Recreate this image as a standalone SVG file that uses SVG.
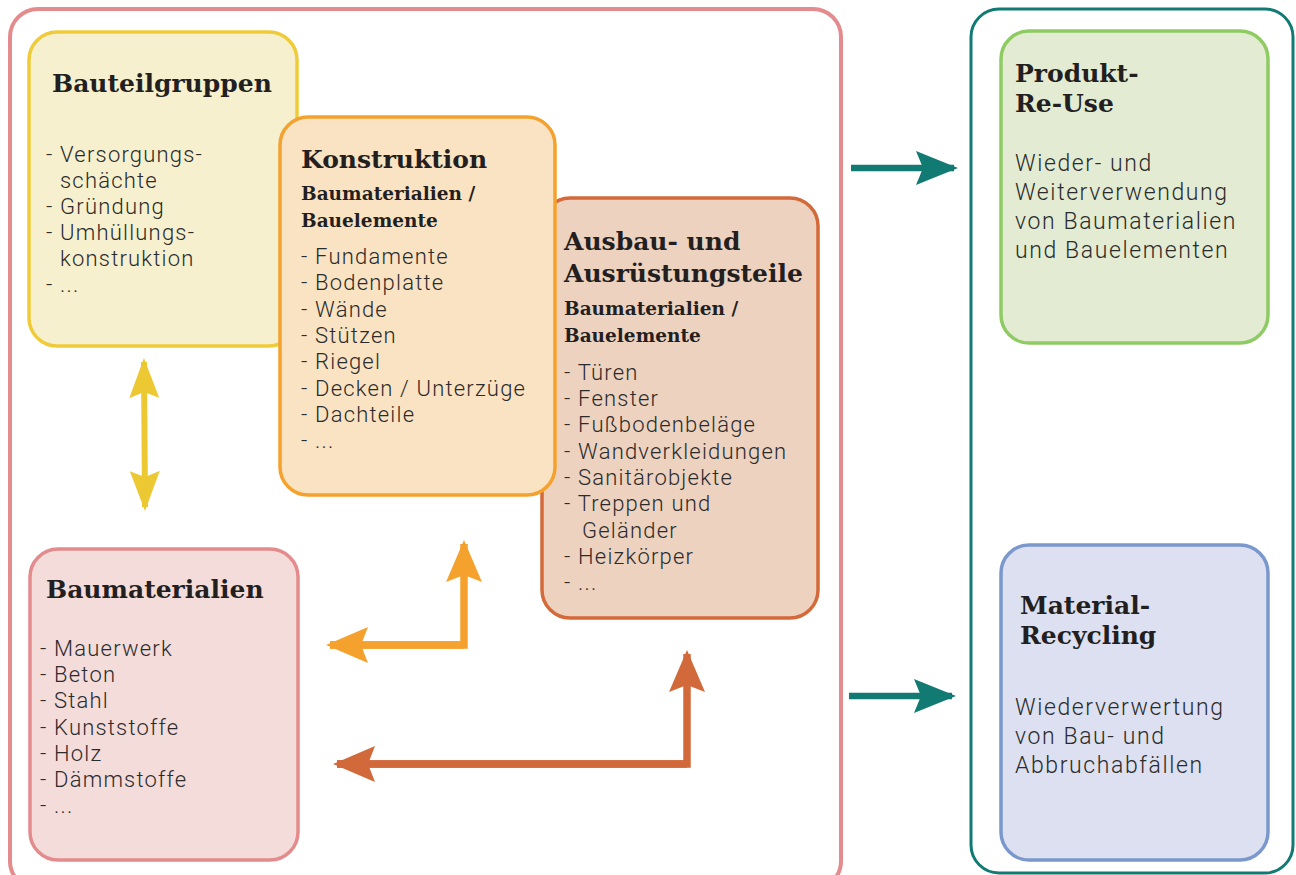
<svg xmlns="http://www.w3.org/2000/svg" width="1296" height="875" viewBox="0 0 1296 875">
  <style>
    .title { font-family: "DejaVu Serif", "Liberation Serif", serif; font-weight: bold; font-size: 25px; fill: #231f20; }
    .sub { font-family: "DejaVu Serif", "Liberation Serif", serif; font-weight: bold; font-size: 18.5px; fill: #231f20; }
    .body { font-family: Roboto, "Liberation Sans", sans-serif; font-weight: 300; font-size: 22px; letter-spacing: 1.2px; fill: #2b2b2b; }
    .side { font-size: 23px; letter-spacing: 1.6px; }
    .box { stroke-width: 3.5; }
  </style>
  <defs>
    <marker id="headYellow" viewBox="0 0 40 30" refX="36" refY="15" markerWidth="40" markerHeight="30" markerUnits="userSpaceOnUse" orient="auto-start-reverse">
      <path d="M0,0 L40,15 L0,30 L6,15 Z" fill="#ecc933"/>
    </marker>
    <marker id="headOrange" viewBox="0 0 42 36" refX="38" refY="18" markerWidth="42" markerHeight="36" markerUnits="userSpaceOnUse" orient="auto">
      <path d="M0,0 L42,18 L0,36 L7,18 Z" fill="#f4a22d"/>
    </marker>
    <marker id="headBrown" viewBox="0 0 42 36" refX="38" refY="18" markerWidth="42" markerHeight="36" markerUnits="userSpaceOnUse" orient="auto">
      <path d="M0,0 L42,18 L0,36 L7,18 Z" fill="#d2693a"/>
    </marker>
    <marker id="headTeal" viewBox="0 0 42 34" refX="38" refY="17" markerWidth="42" markerHeight="34" markerUnits="userSpaceOnUse" orient="auto">
      <path d="M0,0 L42,17 L0,34 L7,17 Z" fill="#117a72"/>
    </marker>
  </defs>

  <!-- outer containers -->
  <rect x="10" y="9" width="831" height="880" rx="28" fill="#ffffff" stroke="#e38b8d" stroke-width="4"/>
  <rect x="971" y="9" width="322" height="864" rx="28" fill="#ffffff" stroke="#117a72" stroke-width="3"/>

  <g id="bauteilgruppen">
    <rect class="box" x="29" y="32" width="268" height="314" rx="28" fill="#f6f0cf" stroke="#efcb3a"/>
    <text class="title" x="52" y="92">Bauteilgruppen</text>
    <text class="body" x="46" y="162">- Versorgungs-</text>
    <text class="body" x="60" y="188">schächte</text>
    <text class="body" x="46" y="214">- Gründung</text>
    <text class="body" x="46" y="240">- Umhüllungs-</text>
    <text class="body" x="60" y="266">konstruktion</text>
    <text class="body" x="46" y="292">- ...</text>
  </g>

  <g id="ausbau">
    <rect class="box" x="542" y="198" width="276" height="420" rx="28" fill="#edd2c0" stroke="#d4693a"/>
    <text class="title" x="564" y="250">Ausbau- und</text>
    <text class="title" x="564" y="282">Ausrüstungsteile</text>
    <text class="sub" x="564" y="315">Baumaterialien /</text>
    <text class="sub" x="564" y="342">Bauelemente</text>
    <text class="body" x="564" y="380">- Türen</text>
    <text class="body" x="564" y="406">- Fenster</text>
    <text class="body" x="564" y="432">- Fußbodenbeläge</text>
    <text class="body" x="564" y="459">- Wandverkleidungen</text>
    <text class="body" x="564" y="485">- Sanitärobjekte</text>
    <text class="body" x="564" y="511">- Treppen und</text>
    <text class="body" x="582" y="538">Geländer</text>
    <text class="body" x="564" y="564">- Heizkörper</text>
    <text class="body" x="564" y="590">- ...</text>
  </g>

  <g id="konstruktion">
    <rect class="box" x="280" y="117" width="275" height="378" rx="28" fill="#fae3c3" stroke="#f4a22d"/>
    <text class="title" x="301" y="168">Konstruktion</text>
    <text class="sub" x="301" y="200">Baumaterialien /</text>
    <text class="sub" x="301" y="227">Bauelemente</text>
    <text class="body" x="301" y="264">- Fundamente</text>
    <text class="body" x="301" y="290">- Bodenplatte</text>
    <text class="body" x="301" y="317">- Wände</text>
    <text class="body" x="301" y="343">- Stützen</text>
    <text class="body" x="301" y="369">- Riegel</text>
    <text class="body" x="301" y="396">- Decken / Unterzüge</text>
    <text class="body" x="301" y="422">- Dachteile</text>
    <text class="body" x="301" y="448">- ...</text>
  </g>

  <g id="baumaterialien">
    <rect class="box" x="30" y="549" width="268" height="311" rx="28" fill="#f4dcdb" stroke="#e38b8d"/>
    <text class="title" x="46" y="598">Baumaterialien</text>
    <text class="body" x="40" y="656">- Mauerwerk</text>
    <text class="body" x="40" y="682">- Beton</text>
    <text class="body" x="40" y="708">- Stahl</text>
    <text class="body" x="40" y="735">- Kunststoffe</text>
    <text class="body" x="40" y="761">- Holz</text>
    <text class="body" x="40" y="787">- Dämmstoffe</text>
    <text class="body" x="40" y="813">- ...</text>
  </g>

  <g id="produkt-reuse">
    <rect class="box" x="1001" y="31" width="267" height="312" rx="28" fill="#e3ebd3" stroke="#8fcb63"/>
    <text class="title" x="1015" y="82">Produkt-</text>
    <text class="title" x="1015" y="112">Re-Use</text>
    <text class="body side" x="1015" y="171">Wieder- und</text>
    <text class="body side" x="1015" y="200">Weiterverwendung</text>
    <text class="body side" x="1015" y="229">von Baumaterialien</text>
    <text class="body side" x="1015" y="258">und Bauelementen</text>
  </g>

  <g id="material-recycling">
    <rect class="box" x="1001" y="545" width="267" height="315" rx="28" fill="#dce0f0" stroke="#7b98cd"/>
    <text class="title" x="1020" y="614">Material-</text>
    <text class="title" x="1020" y="644">Recycling</text>
    <text class="body side" x="1015" y="715">Wiederverwertung</text>
    <text class="body side" x="1015" y="744">von Bau- und</text>
    <text class="body side" x="1015" y="773">Abbruchabfällen</text>
  </g>

  <g id="connectors" fill="none" stroke-linejoin="miter">
    <!-- Bauteilgruppen <-> Baumaterialien -->
    <line x1="144" y1="362" x2="145" y2="507" stroke="#ecc933" stroke-width="6" marker-start="url(#headYellow)" marker-end="url(#headYellow)"/>
    <!-- Konstruktion <-> Baumaterialien -->
    <path d="M330,645 L464,645 L464,544" stroke="#f4a22d" stroke-width="7.5" marker-end="url(#headOrange)"/>
    <path d="M464,645 L330,645" stroke="#f4a22d" stroke-width="7.5" marker-end="url(#headOrange)"/>
    <!-- Ausbau <-> Baumaterialien -->
    <path d="M337,764 L687,764 L687,654" stroke="#d2693a" stroke-width="7.5" marker-end="url(#headBrown)"/>
    <path d="M687,764 L337,764" stroke="#d2693a" stroke-width="7.5" marker-end="url(#headBrown)"/>
    <!-- towards re-use and recycling -->
    <line x1="851" y1="168" x2="954" y2="168" stroke="#117a72" stroke-width="6.5" marker-end="url(#headTeal)"/>
    <line x1="849" y1="696" x2="952" y2="696" stroke="#117a72" stroke-width="6.5" marker-end="url(#headTeal)"/>
  </g>
</svg>
